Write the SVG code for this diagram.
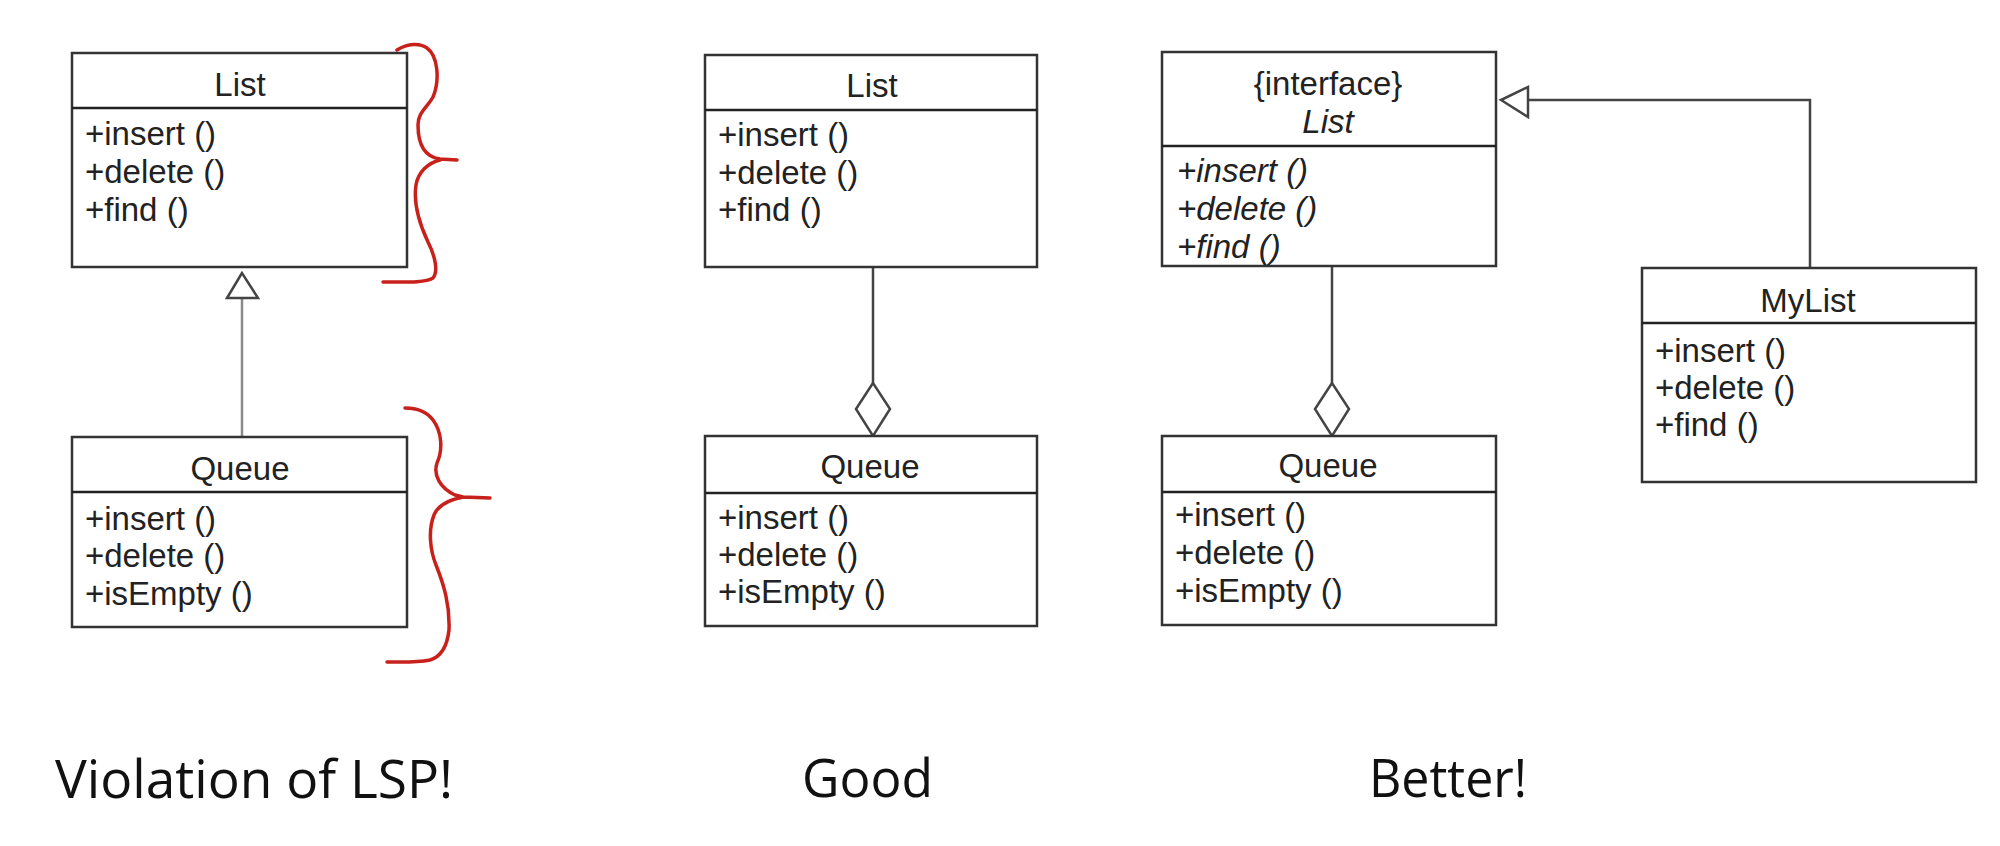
<svg xmlns="http://www.w3.org/2000/svg" width="2000" height="846" viewBox="0 0 2000 846">
<style>
.box{fill:#fff;stroke:#333;stroke-width:2.5}
.div{stroke:#222;stroke-width:2.5}
.t{font-family:"Liberation Sans",Arial,sans-serif;font-size:33px;fill:#222}
.c{text-anchor:middle}
.i{font-style:italic}
.con{fill:none;stroke:#444;stroke-width:2.5}
.gray{stroke:#8a8a8a}
.head{fill:#fff;stroke:#444;stroke-width:2.5}
.brace{fill:none;stroke:#c8201a;stroke-width:3.5;stroke-linecap:round;stroke-linejoin:round}
.lbl{font-family:"Open Sans","Noto Sans",sans-serif;font-size:53px;fill:#111}
</style>
<rect width="2000" height="846" fill="#fff"/>
<g id="connectors">
<line class="con gray" x1="242" y1="298" x2="242" y2="437"/>
<polygon class="head gray" points="242,273 227,298 258,298"/>
<line class="con" x1="873" y1="267" x2="873" y2="383"/>
<polygon class="head" points="873,383 856,409 873,436 890,409"/>
<line class="con" x1="1332" y1="266" x2="1332" y2="383"/>
<polygon class="head" points="1332,383 1315,409 1332,436 1349,409"/>
<polyline class="con" points="1810,268 1810,100 1528,100"/>
<polygon class="head" points="1501,100 1528,87 1528,117"/>
</g>
<g id="list1">
<rect class="box" x="72" y="53" width="335" height="214"/>
<line class="div" x1="72" y1="108" x2="407" y2="108"/>
<text class="t c" x="240" y="96">List</text>
<text class="t" x="85" y="145">+insert ()</text>
<text class="t" x="85" y="183">+delete ()</text>
<text class="t" x="85" y="221">+find ()</text>
</g>
<g id="queue1">
<rect class="box" x="72" y="437" width="335" height="190"/>
<line class="div" x1="72" y1="492" x2="407" y2="492"/>
<text class="t c" x="240" y="480">Queue</text>
<text class="t" x="85" y="530">+insert ()</text>
<text class="t" x="85" y="567">+delete ()</text>
<text class="t" x="85" y="605">+isEmpty ()</text>
</g>
<g id="list2">
<rect class="box" x="705" y="55" width="332" height="212"/>
<line class="div" x1="705" y1="110" x2="1037" y2="110"/>
<text class="t c" x="872" y="97">List</text>
<text class="t" x="718" y="146">+insert ()</text>
<text class="t" x="718" y="184">+delete ()</text>
<text class="t" x="718" y="221">+find ()</text>
</g>
<g id="queue2">
<rect class="box" x="705" y="436" width="332" height="190"/>
<line class="div" x1="705" y1="493" x2="1037" y2="493"/>
<text class="t c" x="870" y="478">Queue</text>
<text class="t" x="718" y="529">+insert ()</text>
<text class="t" x="718" y="566">+delete ()</text>
<text class="t" x="718" y="603">+isEmpty ()</text>
</g>
<g id="ilist">
<rect class="box" x="1162" y="52" width="334" height="214"/>
<line class="div" x1="1162" y1="146" x2="1496" y2="146"/>
<text class="t c" x="1328" y="95">{interface}</text>
<text class="t c i" x="1328" y="133">List</text>
<text class="t i" x="1177" y="182">+insert ()</text>
<text class="t i" x="1177" y="220">+delete ()</text>
<text class="t i" x="1177" y="258">+find ()</text>
</g>
<g id="queue3">
<rect class="box" x="1162" y="436" width="334" height="189"/>
<line class="div" x1="1162" y1="492" x2="1496" y2="492"/>
<text class="t c" x="1328" y="477">Queue</text>
<text class="t" x="1175" y="526">+insert ()</text>
<text class="t" x="1175" y="564">+delete ()</text>
<text class="t" x="1175" y="602">+isEmpty ()</text>
</g>
<g id="mylist">
<rect class="box" x="1642" y="268" width="334" height="214"/>
<line class="div" x1="1642" y1="323" x2="1976" y2="323"/>
<text class="t c" x="1808" y="312">MyList</text>
<text class="t" x="1655" y="362">+insert ()</text>
<text class="t" x="1655" y="399">+delete ()</text>
<text class="t" x="1655" y="436">+find ()</text>
</g>
<g id="braces">
<path class="brace" d="M397,50 C408,43 420,43 427,48 C438,56 440,80 433,97 C427,108 418,112 418,125 C418,145 425,157 440,159 L457,160 M440,160 C428,163 418,172 416,185 C413,205 420,225 428,242 C436,258 438,272 433,278 C425,283 405,282 383,282"/>
<path class="brace" d="M405,408 C418,408 427,412 433,420 C442,432 443,450 437,463 C433,475 440,488 455,495 L463,497 L490,498 M463,497 C448,500 438,505 434,515 C428,530 430,550 436,565 C444,585 450,605 449,630 C447,648 440,657 430,660 C415,663 400,662 387,662"/>
</g>
<g id="labels">
<text class="lbl" x="55" y="798" textLength="398" lengthAdjust="spacingAndGlyphs">Violation of LSP!</text>
<text class="lbl" x="802" y="797" textLength="131" lengthAdjust="spacingAndGlyphs">Good</text>
<text class="lbl" x="1369" y="797" textLength="158" lengthAdjust="spacingAndGlyphs">Better!</text>
</g>
</svg>
